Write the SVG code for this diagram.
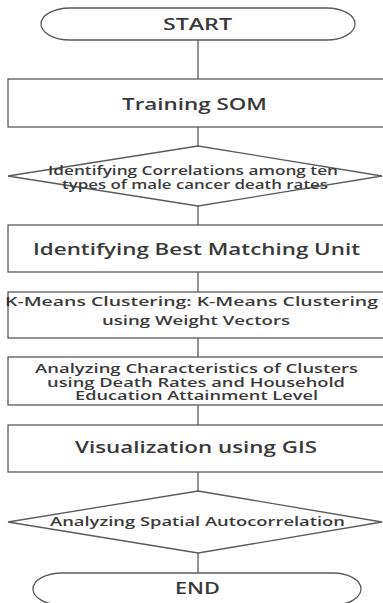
<svg xmlns="http://www.w3.org/2000/svg" width="383" height="603" viewBox="0 0 383 603">
<style>
.s{fill:#fff;stroke:#5a5a5a;stroke-width:1.3}
.c{stroke:#5a5a5a;stroke-width:1.3;fill:none}
text{font-family:"Open Sans","Liberation Sans",sans-serif;fill:#3a3a3a;font-weight:600}
.L{font-size:17px}
.M{font-size:13px}
.S{font-size:12px}
</style>
<rect width="383" height="603" fill="#fff"/>
<g id="connectors">
<line class="c" x1="198" y1="40" x2="198" y2="79"/>
<line class="c" x1="198" y1="127" x2="198" y2="146"/>
<line class="c" x1="198" y1="206" x2="198" y2="225"/>
<line class="c" x1="198" y1="272" x2="198" y2="292"/>
<line class="c" x1="198" y1="338" x2="198" y2="357"/>
<line class="c" x1="198" y1="405" x2="198" y2="425"/>
<line class="c" x1="198" y1="472" x2="198" y2="491"/>
<line class="c" x1="198" y1="553" x2="198" y2="573"/>
</g>
<g id="start">
<path class="s" d="M70,8 H327 A28,16 0 0 1 327,40 H70 A29,16 0 0 1 70,8 Z"/>
<text class="L" x="163" y="30" textLength="69" lengthAdjust="spacingAndGlyphs">START</text>
</g>
<g id="training">
<rect class="s" x="8" y="79" width="390" height="48"/>
<text class="L" x="122" y="110" textLength="145" lengthAdjust="spacingAndGlyphs">Training SOM</text>
</g>
<g id="correlations">
<polygon class="s" points="198,146 382,176 198,206 8,176"/>
<text class="S" x="48" y="175" textLength="290" lengthAdjust="spacingAndGlyphs">Identifying Correlations among ten</text>
<text class="S" x="62" y="189" textLength="266" lengthAdjust="spacingAndGlyphs">types of male cancer death rates</text>
</g>
<g id="bmu">
<rect class="s" x="8" y="225" width="390" height="47"/>
<text class="L" x="33" y="255" textLength="327" lengthAdjust="spacingAndGlyphs">Identifying Best Matching Unit</text>
</g>
<g id="kmeans">
<rect class="s" x="8" y="292" width="390" height="46"/>
<text class="M" x="5" y="306" textLength="373" lengthAdjust="spacingAndGlyphs">K-Means Clustering: K-Means Clustering</text>
<text class="M" x="102" y="325" textLength="188" lengthAdjust="spacingAndGlyphs">using Weight Vectors</text>
</g>
<g id="analyzing">
<rect class="s" x="8" y="357" width="390" height="48"/>
<text class="S" x="35" y="373" textLength="323" lengthAdjust="spacingAndGlyphs">Analyzing Characteristics of Clusters</text>
<text class="S" x="47" y="387" textLength="298" lengthAdjust="spacingAndGlyphs">using Death Rates and Household</text>
<text class="S" x="75" y="400" textLength="243" lengthAdjust="spacingAndGlyphs">Education Attainment Level</text>
</g>
<g id="gis">
<rect class="s" x="8" y="425" width="390" height="47"/>
<text class="L" x="75" y="453" textLength="242" lengthAdjust="spacingAndGlyphs">Visualization using GIS</text>
</g>
<g id="spatial">
<polygon class="s" points="198,491 382,522 198,553 8,522"/>
<text class="M" x="50" y="526" textLength="295" lengthAdjust="spacingAndGlyphs">Analyzing Spatial Autocorrelation</text>
</g>
<g id="end">
<path class="s" d="M62,573 H333 A28,16 0 0 1 333,605 H62 A29,16 0 0 1 62,573 Z"/>
<text class="L" x="175" y="594" textLength="45" lengthAdjust="spacingAndGlyphs">END</text>
</g>
</svg>
